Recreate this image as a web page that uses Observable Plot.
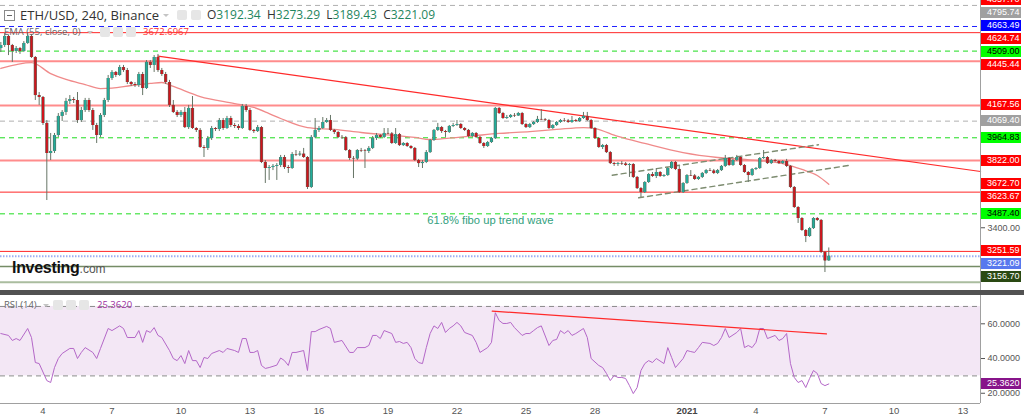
<!DOCTYPE html>
<html><head><meta charset="utf-8">
<script src="https://cdn.jsdelivr.net/npm/d3@7"></script>
<script src="https://cdn.jsdelivr.net/npm/@observablehq/plot@0.6"></script>
<style>
body{margin:0;background:#fff;}
#wrap{position:relative;width:1024px;height:420px;overflow:hidden;background:#fff;}
.abs{position:absolute;white-space:nowrap;}
.lbl{position:absolute;left:981px;width:40px;height:11px;line-height:11px;font-size:9px;font-family:"Liberation Sans",Arial,sans-serif;padding-left:6px;box-sizing:border-box;white-space:nowrap;}
.ico{position:absolute;width:10px;height:10px;background:#e6e6e6;border-radius:2px;}
.tri{position:absolute;width:0;height:0;border-left:3px solid transparent;border-right:3px solid transparent;border-top:3px solid #c4c4c4;}
</style></head>
<body><div id="wrap"></div>
<script>
// ---------- data ----------
const startBar = "2020-12-02T04:00Z"; // first 4h candle
const open = [
4525,4544,4601,4544,4507,4525,4507,4557,4601,4469,
4230,4218,4055,3866,3879,3979,4099,4124,4193,4205,
4199,4073,4136,4199,4136,4042,3979,4105,4199,4337,
4375,4356,4406,4387,4312,4299,4293,4362,4274,4438,
4419,4469,4387,4362,4312,4168,4124,4105,4124,4029,
4149,4023,4011,3904,3898,3960,4023,4017,4073,4023,
4086,4042,4036,4023,4161,4136,4011,4004,4029,3810,
3772,3778,3785,3791,3841,3778,3772,3860,3857,3862,
3841,3653,3967,4011,4023,4061,4073,4011,3998,3967,
3965,3885,3835,3832,3885,3882,3879,3898,3960,3979,
3967,3992,3989,3929,3985,3916,3929,3910,3898,3822,
3803,3810,3872,3948,4011,4029,4004,3998,4036,4042,
4048,4023,4011,3973,3992,3967,3929,3910,3935,3960,
4149,4117,4086,4092,4105,4102,4117,4048,4029,4048,
4061,4080,4077,4073,4023,4042,4061,4073,4070,4061,
4073,4067,4086,4099,4073,4023,3960,3904,3916,3872,
3803,3797,3803,3800,3791,3797,3716,3646,3621,3684,
3734,3722,3747,3722,3728,3772,3810,3766,3621,3678,
3728,3725,3703,3716,3741,3759,3756,3741,3759,3785,
3835,3791,3822,3841,3791,3747,3728,3766,3772,3835,
3841,3803,3822,3816,3803,3816,3785,3653,3527,3458,
3383,3345,3395,3458,3446,3245,3192.34];
const high = [
4563,4620,4607,4551,4538,4532,4569,4620,4613,4475,
4249,4224,4073,3992,3992,4117,4136,4212,4230,4218,
4249,4155,4212,4212,4149,4055,4117,4212,4356,4387,
4381,4419,4419,4400,4318,4312,4375,4375,4450,4450,
4481,4488,4400,4375,4325,4199,4136,4136,4155,4168,
4224,4029,4023,3916,3973,4036,4029,4086,4086,4099,
4099,4055,4048,4174,4174,4149,4017,4042,4036,3822,
3791,3797,3803,3854,3854,3791,3872,3885,3879,3898,
3847,3979,4086,4036,4092,4086,4105,4017,4004,3979,
3973,3891,3847,3891,3898,3891,3910,3973,3992,3985,
4023,4023,3998,4023,3992,3935,3935,3916,3904,3829,
3822,3885,3954,4017,4055,4036,4011,4042,4055,4073,
4055,4029,4017,3998,3998,3973,3935,3942,3967,4155,
4155,4124,4105,4111,4117,4124,4124,4055,4055,4067,
4099,4142,4086,4080,4048,4067,4080,4086,4080,4099,
4080,4092,4124,4124,4080,4029,3967,3923,3923,3879,
3810,3810,3816,3810,3803,3803,3722,3653,3690,3741,
3747,3772,3753,3734,3778,3816,3816,3785,3684,3734,
3759,3734,3722,3747,3766,3772,3766,3766,3791,3854,
3841,3829,3854,3847,3797,3753,3772,3778,3841,3885,
3847,3829,3829,3822,3822,3829,3791,3659,3533,3464,
3389,3402,3464,3464,3452,3251,3273.29];
const low = [
4500,4532,4481,4438,4494,4488,4500,4551,4463,4199,
4168,4042,3571,3822,3866,3967,4067,4105,4174,4180,
4055,4061,4124,4124,4011,3929,3967,4092,4186,4325,
4343,4350,4375,4299,4287,4281,4281,4230,4268,4400,
4375,4375,4350,4299,4155,4117,4092,4092,4023,4017,
4017,3998,3898,3841,3885,3948,4004,4004,4011,4017,
4029,4023,4011,4017,4124,4004,3992,3998,3803,3678,
3697,3759,3697,3778,3766,3741,3766,3847,3847,3835,
3640,3646,3960,3998,4017,4055,4004,3985,3960,3954,
3879,3822,3709,3822,3872,3772,3866,3891,3948,3960,
3960,3985,3923,3923,3910,3910,3904,3891,3816,3778,
3772,3803,3866,3942,4004,3992,3967,3992,4029,4036,
4017,4004,3967,3967,3960,3923,3898,3904,3929,3954,
4111,4080,4080,4086,4092,4099,4042,4023,4023,4042,
4055,4073,4067,4017,4017,4036,4055,4061,4055,4055,
4061,4061,4080,4067,4017,3954,3898,3891,3866,3797,
3785,3785,3791,3785,3716,3709,3640,3590,3615,3678,
3716,3709,3716,3716,3722,3766,3759,3615,3615,3672,
3722,3697,3697,3709,3734,3753,3734,3734,3753,3778,
3785,3785,3816,3785,3741,3684,3722,3759,3766,3829,
3797,3797,3810,3797,3797,3778,3646,3521,3427,3377,
3307,3339,3389,3439,3238,3119,3189.43];
const close = [
4544,4601,4544,4507,4525,4507,4557,4601,4469,4230,
4218,4055,3866,3879,3979,4099,4124,4193,4205,4199,
4073,4136,4199,4136,4042,3979,4105,4199,4337,4375,
4356,4406,4387,4312,4299,4293,4362,4274,4438,4419,
4469,4387,4362,4312,4168,4124,4105,4124,4029,4149,
4023,4011,3904,3898,3960,4023,4017,4073,4023,4086,
4042,4036,4023,4161,4136,4011,4004,4029,3810,3772,
3778,3785,3791,3841,3778,3772,3860,3857,3862,3841,
3653,3967,4011,4023,4061,4073,4011,3998,3967,3965,
3885,3835,3832,3885,3882,3879,3898,3960,3979,3967,
3992,3989,3929,3985,3916,3929,3910,3898,3822,3803,
3810,3872,3948,4011,4029,4004,3998,4036,4042,4048,
4023,4011,3973,3992,3967,3929,3910,3935,3960,4149,
4117,4086,4092,4105,4102,4117,4048,4029,4048,4061,
4080,4077,4073,4023,4042,4061,4073,4070,4061,4073,
4067,4086,4099,4073,4023,3960,3904,3916,3872,3803,
3797,3803,3800,3791,3797,3716,3646,3621,3684,3734,
3722,3747,3722,3728,3772,3810,3766,3621,3678,3728,
3725,3703,3716,3741,3759,3756,3741,3759,3785,3835,
3791,3822,3841,3791,3747,3728,3766,3772,3835,3841,
3803,3822,3816,3803,3816,3785,3653,3527,3458,3383,
3345,3395,3458,3446,3245,3192,3221.09];

// EMA(55): [bar index, value]
const emaPoints = [[0,4400],[8,4437],[13,4368],[17,4331],[22,4299],[26,4274],[29,4277],[34,4293],[39,4306],[42,4312],[45,4287],[52,4224],[61,4180],[66,4155],[70,4117],[73,4086],[80,4029],[87,4017],[94,3998],[108,3967],[112,3954],[117,3963],[124,3979],[130,3992],[138,4004],[145,4017],[152,4029],[155,4023],[161,3973],[168,3929],[178,3872],[187,3841],[196,3825],[204,3803],[209,3766],[213,3728],[216,3672.70]];

// RSI(14): [bar index, value]
const rsiPoints = [[0,54.4],[2,53.3],[3,50.4],[4,51.5],[5,50.4],[7,57.3],[8,52.1],[9,37.7],[10,37.1],[12,27.3],[13,26.2],[14,34.8],[15,40.0],[16,42.9],[18,45.8],[19,45.8],[20,40.0],[21,43.5],[22,46.3],[24,43.5],[25,40.0],[26,45.8],[28,57.3],[29,56.1],[31,58.8],[32,57.3],[33,52.1],[35,52.1],[36,56.1],[37,49.3],[38,56.1],[39,55.0],[40,57.8],[41,53.3],[42,52.1],[44,44.6],[45,40.0],[46,38.8],[47,41.7],[48,37.1],[49,44.6],[50,38.8],[51,38.8],[52,34.8],[53,40.6],[54,40.0],[55,42.9],[57,44.6],[58,43.5],[59,45.8],[61,44.6],[62,43.5],[63,51.5],[64,51.5],[65,43.5],[66,43.5],[67,44.6],[68,36.0],[69,34.3],[70,34.8],[72,36.2],[73,40.3],[74,38.8],[75,36.0],[76,43.5],[77,43.5],[79,44.6],[80,33.1],[81,55.5],[82,55.5],[83,56.7],[85,58.5],[86,57.3],[87,49.3],[89,50.4],[91,43.5],[92,43.5],[93,46.3],[95,46.3],[96,47.5],[97,53.3],[98,53.3],[99,51.5],[100,56.1],[102,54.4],[103,49.3],[104,49.8],[105,48.7],[106,49.3],[107,46.3],[108,40.0],[109,37.7],[110,37.1],[111,46.3],[112,54.4],[113,58.8],[114,57.3],[115,60.8],[116,55.0],[117,57.3],[118,58.8],[119,60.8],[120,58.8],[121,55.0],[123,53.3],[124,49.3],[125,43.5],[127,46.3],[128,49.3],[129,66.4],[130,61.9],[131,60.2],[132,60.2],[133,60.8],[134,57.8],[136,53.3],[137,54.4],[138,54.4],[139,56.1],[140,57.8],[141,58.8],[143,47.5],[144,50.4],[145,51.0],[146,56.1],[147,54.4],[148,56.1],[149,53.3],[150,54.4],[152,57.3],[153,52.1],[154,40.0],[156,36.0],[157,34.8],[158,31.4],[159,27.3],[160,30.2],[161,29.1],[162,29.1],[163,28.5],[164,24.4],[165,19.8],[166,23.3],[167,33.1],[168,37.1],[169,38.8],[170,37.7],[171,40.0],[173,37.1],[174,46.3],[175,40.6],[176,34.8],[178,40.0],[179,44.6],[180,44.0],[181,43.5],[182,46.3],[183,49.3],[185,48.7],[186,47.5],[187,48.7],[188,52.1],[189,57.3],[190,52.1],[192,55.0],[193,57.3],[194,46.3],[195,47.5],[196,46.3],[197,49.3],[198,57.3],[199,57.3],[200,51.5],[202,53.3],[203,50.4],[204,51.5],[205,54.4],[206,37.1],[207,29.1],[208,26.2],[209,27.3],[210,23.3],[211,28.5],[212,33.1],[213,31.4],[214,25.6],[215,24.4],[216,25.362]];

// drawn lines: [bar index, value]
const trendLine = [[41,4477],[255.6,3753]];
const channelUpper = [[159.5,3730],[213.3,3921]];
const channelLower = [[166.4,3588],[221.2,3791]];
const rsiTrendLine = [[128.2,67.3],[215.4,54.2]];
const fiboNote = {bar: 127.7, price: 3445.5, text: "61.8% fibo up trend wave"};

// horizontal levels
const levelPrices = [4857.70,4795.74,4663.49,4624.74,4509.00,4445.44,4167.56,4069.40,3964.83,3822.00,3623.67,3487.40,3251.59,3221.09,3156.70,3058.20];
const levelKinds = ["red","greyDash","blueDash","red","greenDash","redWide","redWide","greyDash","greenDash","redWide","red","greenDash","red","blueDot","olive","oliveLight"];
const emaLast = 3672.70;
const rsiLast = 25.3620;
const priceTicks = [3400];
const rsiTicks = [20,40,60];
const xTickDates = ["2020-12-04","2020-12-07","2020-12-10","2020-12-13","2020-12-16","2020-12-19","2020-12-22","2020-12-25","2020-12-28","2021-01-01","2021-01-04","2021-01-07","2021-01-10","2021-01-13"];
const xTickLabels = ["4","7","10","13","16","19","22","25","28","2021","4","7","10","13"];

// ---------- styles ----------
const kindStyle = {
  red:       {stroke:"#ff2626", width:1,   dash:null,      box:"#ff0000", text:"#ffffff"},
  redWide:   {stroke:"#ff8c8c", width:2,   dash:null,      box:"#ff0000", text:"#ffffff"},
  greyDash:  {stroke:"#b0b0b0", width:1,   dash:"5,4",     box:"#a0a0a0", text:"#ffffff"},
  blueDash:  {stroke:"#2020ff", width:1,   dash:"5,4",     box:"#0000ff", text:"#ffffff"},
  greenDash: {stroke:"#1edc1e", width:1,   dash:"5,4",     box:"#00ff00", text:"#000000"},
  blueDot:   {stroke:"#9db0f2", width:2,   dash:"1.5,1.5", box:"#5878ee", text:"#ffffff"},
  olive:     {stroke:"#758c66", width:1.5, dash:null,      box:"#2a4913", text:"#ffffff"},
  oliveLight:{stroke:"#aabd9f", width:2,   dash:null,      box:null,      text:null}
};
const UP = "#22ad9b", DOWN = "#d0141c", WICK = "#667566";

// ---------- build ----------
const t0 = new Date(startBar).getTime();
const H4 = 4*3600*1000;
const barDate = b => new Date(t0 + b*H4);
const xDomain = [barDate(-0.086), barDate(255.58)];
const W = 1024, MR = 44;
const wrap = document.getElementById("wrap");

const candles = close.map((c,i) => ({date: barDate(i), open: open[i], high: high[i], low: low[i], close: c}));
const ups = candles.filter(d => d.close >= d.open);
const downs = candles.filter(d => d.close < d.open);
const levels = levelPrices.map((p,i) => ({price: p, kind: levelKinds[i]}));
const pt = d => ({date: barDate(d[0]), v: d[1]});

const baseStyle = {fontFamily:"'Liberation Sans', Arial, sans-serif", fontSize:"9px", color:"#555", background:"transparent", overflow:"visible"};

const levelMarks = Object.keys(kindStyle).map(k => {
  const s = kindStyle[k];
  const o = {y:"price", stroke:s.stroke, strokeWidth:s.width};
  if (s.dash) o.strokeDasharray = s.dash;
  return Plot.ruleY(levels.filter(d => d.kind === k), o);
});

const pricePlot = Plot.plot({
  width: W, height: 290, marginLeft: 0, marginRight: MR, marginTop: 0, marginBottom: 0,
  style: baseStyle,
  x: {type:"utc", domain: xDomain, axis: null},
  y: {domain: [3006.1, 4826.7], axis: "right", ticks: priceTicks, tickFormat: d => d.toFixed(2), tickSize: 4, tickPadding: 3, label: null},
  marks: [
    ...levelMarks,
    Plot.line(emaPoints.map(pt), {x:"date", y:"v", stroke:"#f08a8a", strokeWidth:1.3, curve:"monotone-x"}),
    Plot.line(trendLine.map(pt), {x:"date", y:"v", stroke:"#ff2a2a", strokeWidth:1.2}),
    Plot.line(channelUpper.map(pt), {x:"date", y:"v", stroke:"#7d8c70", strokeWidth:1.4, strokeDasharray:"5,4"}),
    Plot.line(channelLower.map(pt), {x:"date", y:"v", stroke:"#7d8c70", strokeWidth:1.4, strokeDasharray:"5,4"}),
    Plot.ruleX(candles, {x:"date", y1:"low", y2:"high", stroke:WICK, strokeWidth:1}),
    Plot.ruleX(candles, {x:"date", y1:"open", y2:"close", stroke:"#5a665a", strokeWidth:3.2}),
    Plot.ruleX(ups, {x:"date", y1:"open", y2:"close", stroke:UP, strokeWidth:2}),
    Plot.ruleX(downs, {x:"date", y1:"open", y2:"close", stroke:DOWN, strokeWidth:2}),
    Plot.text([fiboNote], {x: d => barDate(d.bar), y:"price", text:"text", fill:"#33a07e", fontSize:11.2, textAnchor:"middle"}),
    Plot.ruleX([xDomain[1]], {stroke:"#a0a0a0"})
  ]
});
pricePlot.style.position = "absolute"; pricePlot.style.left = "0px"; pricePlot.style.top = "0px";
wrap.appendChild(pricePlot);

const sep = document.createElement("div");
sep.className = "abs"; sep.style.cssText += "left:0;top:290px;width:1024px;height:5px;background:#525252;";
wrap.appendChild(sep);

const xTicks = xTickDates.map((d,i) => ({date: new Date(d + "T00:00Z"), label: xTickLabels[i]}));
const rsiPlot = Plot.plot({
  width: W, height: 125, marginLeft: 0, marginRight: MR, marginTop: 0, marginBottom: 17,
  style: baseStyle,
  x: {type:"utc", domain: xDomain, axis: null},
  y: {domain: [14.1, 76.3], axis: "right", ticks: rsiTicks, tickFormat: d => d.toFixed(4), tickSize: 4, tickPadding: 3, label: null},
  marks: [
    Plot.rect([0], {x1: () => xDomain[0], x2: () => xDomain[1], y1: () => 30, y2: () => 70, fill:"#f3e7f5"}),
    Plot.ruleY([30, 70], {stroke:"#8a8a8a", strokeDasharray:"5,4"}),
    Plot.line(rsiPoints.map(pt), {x:"date", y:"v", stroke:"#b467c8", strokeWidth:1}),
    Plot.line(rsiTrendLine.map(pt), {x:"date", y:"v", stroke:"#ff2a2a", strokeWidth:1.2}),
    Plot.ruleY([14.1], {stroke:"#a0a0a0"}),
    Plot.ruleX([xDomain[1]], {stroke:"#a0a0a0"}),
    Plot.text(xTicks.filter(d => d.label.length < 4), {x:"date", text:"label", frameAnchor:"bottom", dy:10, fill:"#555", fontSize:9.5}),
    Plot.text(xTicks.filter(d => d.label.length >= 4), {x:"date", text:"label", frameAnchor:"bottom", dy:10, fill:"#444", fontSize:9.5, fontWeight:"bold"})
  ]
});
rsiPlot.style.position = "absolute"; rsiPlot.style.left = "0px"; rsiPlot.style.top = "295px";
wrap.appendChild(rsiPlot);

// ---------- price-scale labels (positioned through the plots' own scales) ----------
function placeLabels(plot, offsetTop, items) {
  const ys = plot.scale("y");
  const arr = items.map(d => ({...d, cy: ys.apply(d.value) + offsetTop})).sort((a,b) => a.cy - b.cy);
  let prev = -Infinity;
  for (const d of arr) {
    const c = Math.max(d.cy, prev + 13, offsetTop - 1);
    prev = c;
    const el = document.createElement("div");
    el.className = "lbl";
    el.style.top = (c - 5.5) + "px";
    el.style.background = d.box; el.style.color = d.color;
    el.textContent = d.text;
    wrap.appendChild(el);
  }
}
const priceLabels = levels.filter(d => kindStyle[d.kind].box).map(d => ({value:d.price, text:d.price.toFixed(2), box:kindStyle[d.kind].box, color:kindStyle[d.kind].text}));
priceLabels.push({value: emaLast, text: emaLast.toFixed(2), box:"#ff0000", color:"#ffffff"});
placeLabels(pricePlot, 0, priceLabels);
placeLabels(rsiPlot, 295, [{value: rsiLast, text: rsiLast.toFixed(4), box:"#87148a", color:"#ffffff"}]);

// ---------- legends ----------
function add(html, css) { const el = document.createElement("div"); el.className = "abs"; el.style.cssText += css; el.innerHTML = html; wrap.appendChild(el); return el; }
add('<div style="position:absolute;left:2px;top:4px;width:5px;height:1px;background:#666"></div>', "left:4px;top:10px;width:9px;height:9px;border:1px solid #8a8a8a;");
add("ETH/USD, 240, Binance", "left:20px;top:6px;font:13px/18px 'Open Sans',sans-serif;color:#333;");
add("", "left:163px;top:14px;"); wrap.lastChild.className = "tri";
add("", "left:177px;top:10px;"); wrap.lastChild.className = "ico";
add("", "left:191px;top:10px;"); wrap.lastChild.className = "ico";
const V = s => '<span style="color:#1f8660">' + s + '</span>';
add('O' + V("3192.34") + '&nbsp;&nbsp;H' + V("3273.29") + '&nbsp;&nbsp;L' + V("3189.43") + '&nbsp;&nbsp;C' + V("3221.09"),
    "left:207px;top:6px;font:12px/18px 'Open Sans',sans-serif;color:#333;");
add("EMA (55, close, 0)", "left:4px;top:26px;font:9.5px/12px 'Open Sans',sans-serif;color:#666;");
add("", "left:87px;top:31px;"); wrap.lastChild.className = "tri";
["100px","113px","126px"].forEach(l => { add("", "left:"+l+";top:27px;"); wrap.lastChild.className = "ico"; });
add("3672.6967", "left:143px;top:26px;font:9.5px/12px 'Open Sans',sans-serif;color:#ff3030;");
add("RSI (14)", "left:4px;top:299px;font:9.5px/12px 'Open Sans',sans-serif;color:#666;");
add("", "left:43px;top:304px;"); wrap.lastChild.className = "tri";
["53px","66px","79px"].forEach(l => { add("", "left:"+l+";top:300px;"); wrap.lastChild.className = "ico"; });
add("25.3620", "left:97px;top:299px;font:9.5px/12px 'Open Sans',sans-serif;color:#9c2fa0;");
add('Investing<span style="font:12px \'Liberation Sans\',Arial,sans-serif;color:#555;letter-spacing:0">.com</span>',
    "left:12px;top:259px;font:bold 16px/18px 'Liberation Sans',Arial,sans-serif;color:#111;letter-spacing:-0.3px;");
</script></body></html>
